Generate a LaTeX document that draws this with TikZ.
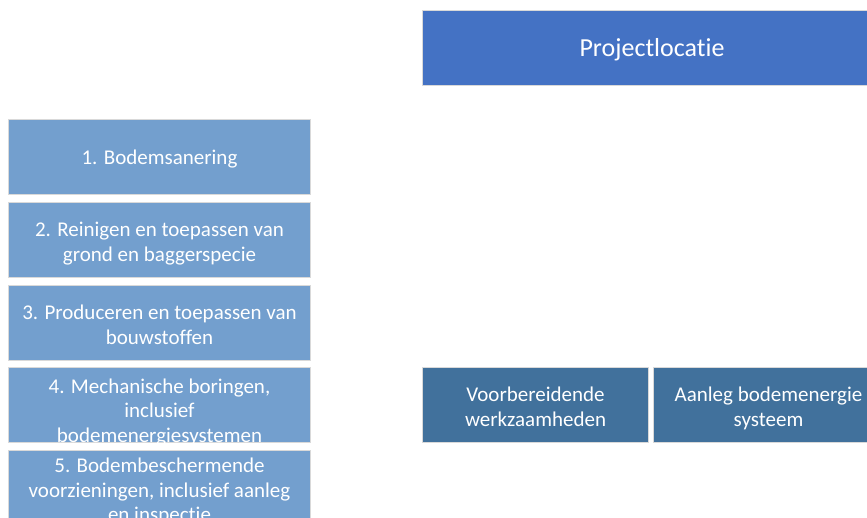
\documentclass[tikz,border=0pt]{standalone}
\usepackage{fontspec}
\setmainfont{Carlito}[Ligatures={NoCommon,NoContextual}]
\usepackage{tikz}
\usetikzlibrary{positioning}

\definecolor{lightbox}{RGB}{115,159,206}
\definecolor{projblue}{RGB}{68,114,196}
\definecolor{darkbox}{RGB}{65,113,156}

\def\botdp{0.25em}
\newcommand{\topstrut}{\rule{0pt}{0.92em}}
\newcommand{\botstrut}{\rule[-\botdp]{0pt}{\botdp}}
% taller first line, to set multi-line texts a bit lower
\newcommand{\lowr}[1][1.1em]{\rule{0pt}{#1}}

\begin{document}
\begin{tikzpicture}[x=1pt,y=1pt,
  box/.style={draw=gray!30,line width=1pt,inner sep=0pt,text=white,
    align=center,anchor=north west,
    execute at begin node=\topstrut,execute at end node=\botstrut},
  stepbox/.style={box,fill=lightbox,minimum width=302pt,minimum height=75pt,
    font=\fontsize{21}{25.5}\selectfont},
  tightbox/.style={stepbox,font=\fontsize{21}{24.5}\selectfont\def\botdp{0pt}},
  taskbox/.style={box,fill=darkbox,minimum height=75pt,
    font=\fontsize{21}{25.5}\selectfont}]
  \clip (0,0) rectangle (867,-517);
  \useasboundingbox (0,0) rectangle (867,-517);
  % project location on top
  \node[box,fill=projblue,minimum width=459pt,minimum height=75pt,
    font=\fontsize{26}{30}\selectfont] (proj) at (422,-10) {Projectlocatie};
  % the five themes on the left
  \node[stepbox] (b1) at (8,-119) {1. Bodemsanering};
  \node[stepbox] (b2) at (8,-202) {\lowr 2. Reinigen en toepassen van\\grond en baggerspecie};
  \node[stepbox] (b3) at (8,-285) {\lowr 3. Produceren en toepassen van\\bouwstoffen};
  \node[tightbox] (b4) at (8,-367) {\lowr[1.2em]4. Mechanische boringen,\\inclusief\\\smash{bodemenergiesystemen}};
  \node[stepbox,font=\fontsize{21}{24.5}\selectfont] (b5) at (8,-450) {\lowr[1.06em]5. Bodembeschermende\\voorzieningen, inclusief aanleg\\en inspectie};
  % activities at the location
  \node[taskbox,minimum width=226pt] (voorb) at (422,-367) {\lowr Voorbereidende\\werkzaamheden};
  \node[taskbox,minimum width=230pt] (aanleg) at (653,-367) {\lowr Aanleg bodemenergie\\systeem};
\end{tikzpicture}
\end{document}
